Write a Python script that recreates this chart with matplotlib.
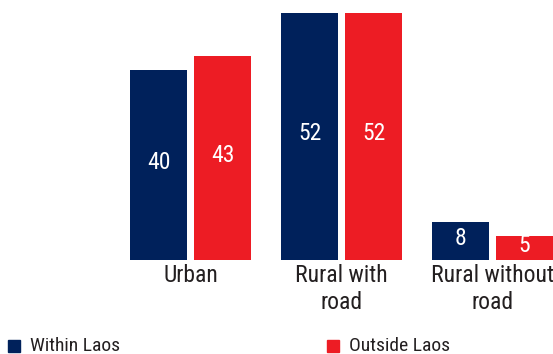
import matplotlib
matplotlib.use("Agg")
import matplotlib.pyplot as plt
import numpy as np
from matplotlib import font_manager

names = {f.name for f in font_manager.fontManager.ttflist}
fam = next((n for n in ["Roboto Condensed", "Archivo Narrow", "Liberation Sans Narrow", "Liberation Sans"] if n in names), "DejaVu Sans")
plt.rcParams['font.family'] = [fam, 'DejaVu Sans']

categories = ["Urban", "Rural with\nroad", "Rural without\nroad"]
series_names = ["Within Laos", "Outside Laos"]
within = [40, 52, 8]
outside = [43, 52, 5]
colors = ["#00215B", "#ED1C24"]

W, H = 553, 354
fig = plt.figure(figsize=(W/100, H/100), dpi=100)
ax = fig.add_axes([0, 94/H, 1, 247/H])

x = np.arange(len(categories))
bw = 57/151
off = (57/2 + 3.5)/151
b1 = ax.bar(x - off, within, bw, color=colors[0])
b2 = ax.bar(x + off, outside, bw, color=colors[1])

for bars, vals in ((b1, within), (b2, outside)):
    for r, v in zip(bars, vals):
        ax.text(r.get_x() + r.get_width()/2, v/2 + 0.6, str(v), ha="center", va="center",
                color="white", fontsize=17)

ax.set_xlim((0 - 190.5)/151, (553 - 190.5)/151)
ax.set_ylim(0, 52)
ax.set_xticks(x)
ax.set_xticklabels(categories, fontsize=17, color="#231F20", linespacing=1.2)
ax.tick_params(axis="x", length=0, pad=3)
ax.set_yticks([])
for s in ax.spines.values():
    s.set_visible(False)

# legend
fig.patches.append(plt.Rectangle((8/W, 1 - 352/H), 12/W, 12/H, transform=fig.transFigure,
                                 color=colors[0], figure=fig))
fig.text(30/W, 1 - 346/H, series_names[0], fontsize=14, color="#231F20", va="center")
fig.patches.append(plt.Rectangle((327/W, 1 - 352/H), 12/W, 12/H, transform=fig.transFigure,
                                 color=colors[1], figure=fig))
fig.text(349/W, 1 - 346/H, series_names[1], fontsize=14, color="#231F20", va="center")

fig.savefig("out.png", dpi=100)
